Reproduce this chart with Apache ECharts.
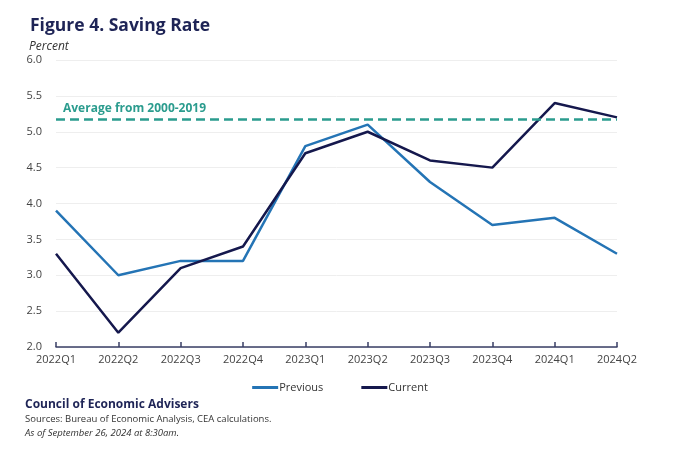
<!DOCTYPE html>
<html><head><meta charset="utf-8">
<script src="https://cdn.jsdelivr.net/npm/echarts@6/dist/echarts.min.js"></script>
<style>html,body{margin:0;padding:0;background:#fff}#c{width:680px;height:449px}</style>
</head><body><div id="c"></div>
<script>
var categories = ['2022Q1','2022Q2','2022Q3','2022Q4','2023Q1','2023Q2','2023Q3','2023Q4','2024Q1','2024Q2'];
var previous = [3.9, 3.0, 3.2, 3.2, 4.8, 5.1, 4.3, 3.7, 3.8, 3.3];
var current = [3.3, 2.2, 3.1, 3.4, 4.7, 5.0, 4.6, 4.5, 5.4, 5.2];
var averageValue = 5.17;
var yTicks = [2.0, 2.5, 3.0, 3.5, 4.0, 4.5, 5.0, 5.5, 6.0];

var chart = echarts.init(document.getElementById('c'), null, {renderer:'canvas'});
var font = "'Open Sans', 'Noto Sans', sans-serif";
chart.setOption({
  animation: false,
  textStyle: {fontFamily: font},
  title: [
    {text: 'Figure 4. Saving Rate', left: 25, top: 12, textStyle: {fontFamily: font, fontSize: 17.5, fontWeight: 'bold', color: '#1e2456'}},
    {text: 'Percent', left: 24, top: 36, textStyle: {fontFamily: font, fontSize: 12, fontStyle: 'italic', fontWeight: 'normal', color: '#333'}},
    {text: 'Council of Economic Advisers', left: 20, top: 394, textStyle: {fontFamily: font, fontSize: 12, fontWeight: 'bold', color: '#1e2456'}},
    {text: 'Sources: Bureau of Economic Analysis, CEA calculations.', left: 20, top: 409, textStyle: {fontFamily: font, fontSize: 9.5, fontWeight: 'normal', color: '#333'}},
    {text: 'As of September 26, 2024 at 8:30am.', left: 20, top: 423, textStyle: {fontFamily: font, fontSize: 9.5, fontStyle: 'italic', fontWeight: 'normal', color: '#333'}}
  ],
  legend: {
    data: ['Previous', 'Current'],
    left: 'center', top: 377, itemWidth: 26, itemHeight: 3, itemGap: 38,
    icon: 'rect',
    textStyle: {fontFamily: font, fontSize: 11, color: '#333', padding: [0,0,0,-4]}
  },
  grid: {left: 56, right: 63, top: 60, bottom: 102},
  xAxis: {
    type: 'category', data: categories, boundaryGap: false,
    axisLine: {lineStyle: {color: '#3a3f66', width: 1.5}},
    axisTick: {inside: true, length: 5, lineStyle: {color: '#3a3f66', width: 1.5}},
    axisLabel: {color: '#444', fontSize: 11, margin: 7, fontFamily: font}
  },
  yAxis: {
    type: 'value', min: yTicks[0], max: yTicks[yTicks.length-1], interval: 0.5,
    axisLine: {show: false}, axisTick: {show: false},
    axisLabel: {color: '#444', fontSize: 11, margin: 14, fontFamily: font, formatter: function(v){return v.toFixed(1);}},
    splitLine: {lineStyle: {color: '#eeeeee', width: 1}}
  },
  series: [
    {name: 'Previous', type: 'line', data: previous, symbol: 'none', color: '#2474b5',
     lineStyle: {width: 2.5, color: '#2474b5'}, z: 3},
    {name: 'Current', type: 'line', data: current, symbol: 'none', color: '#15184d',
     lineStyle: {width: 2.5, color: '#15184d'}, z: 4,
     markLine: {silent: true, symbol: 'none',
       lineStyle: {type: [9, 5], width: 2.5, color: '#2b9c8e'},
       label: {show: true, position: 'insideStartTop', formatter: 'Average from 2000-2019', color: '#2b9c8e', fontWeight: 'bold', fontSize: 12, fontFamily: font, distance: [7, 5]},
       data: [{yAxis: averageValue}]}}
  ]
});
</script></body></html>
